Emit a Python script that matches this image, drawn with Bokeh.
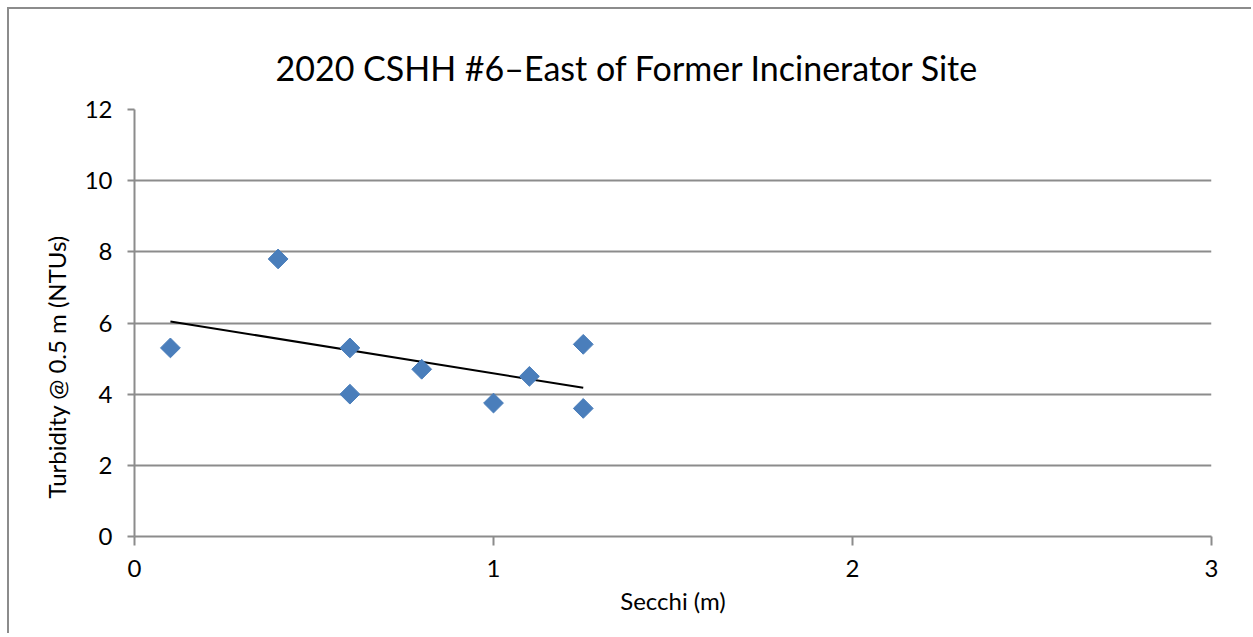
import numpy as np
from bokeh.plotting import figure
from bokeh.models import Range1d, FixedTicker, Title
from bokeh.embed import file_html
from bokeh.resources import INLINE

# Data
secchi_m = [0.1, 0.4, 0.6, 0.6, 0.8, 1.0, 1.1, 1.25, 1.25]
turbidity_ntu = [5.3, 7.8, 5.3, 4.0, 4.7, 3.75, 4.5, 5.4, 3.6]
x_ticks = [0, 1, 2, 3]
y_ticks = [0, 2, 4, 6, 8, 10, 12]

title_text = "2020 CSHH #6\u2013East of Former Incinerator Site"
x_label = "Secchi (m)"
y_label = "Turbidity @  0.5 m (NTUs)"

FONT = "Lato"
GRID = "#8c8c8c"

# linear trendline (least squares)
xs = np.array(secchi_m)
ys = np.array(turbidity_ntu)
slope, intercept = np.polyfit(xs, ys, 1)
tx = [xs.min(), xs.max()]
ty = [slope * v + intercept for v in tx]

p = figure(width=1244, height=626, output_backend="svg", toolbar_location=None,
           x_range=Range1d(0, 3), y_range=Range1d(0, 12),
           min_border_left=125, min_border_right=42, min_border_top=100,
           min_border_bottom=99)
p.styles = {"margin-left": "7px", "margin-top": "7px",
            "border-left": "2px solid #8c8c8c", "border-top": "2px solid #8c8c8c"}
p.outline_line_color = None
p.background_fill_color = "white"
p.border_fill_color = "white"

p.title.text = title_text
p.title.text_font = FONT
p.title.text_font_size = "34px"
p.title.text_font_style = "normal"
p.title.text_color = "#000000"
p.title.align = "left"
p.title.offset = 141
p.title.standoff = 44

p.xaxis.ticker = FixedTicker(ticks=x_ticks)
p.yaxis.ticker = FixedTicker(ticks=y_ticks)
for ax in (p.xaxis[0], p.yaxis[0]):
    ax.axis_line_color = GRID
    ax.axis_line_width = 2
    ax.major_tick_line_color = GRID
    ax.major_tick_line_width = 2
    ax.major_tick_in = 0
    ax.minor_tick_line_color = None
    ax.major_label_text_font = FONT
    ax.major_label_text_font_size = "24px"
    ax.major_label_text_color = "#000000"
    ax.axis_label_text_font = FONT
    ax.axis_label_text_font_style = "normal"
    ax.axis_label_text_color = "#000000"

p.xaxis.major_tick_out = 9
p.yaxis.major_tick_out = 7
p.xaxis.major_label_standoff = 14
p.yaxis.major_label_standoff = 15
p.xaxis.axis_label = x_label
p.xaxis.axis_label_text_font_size = "24px"
p.xaxis.axis_label_standoff = 6

p.xgrid.grid_line_color = None
p.ygrid.grid_line_color = GRID
p.ygrid.grid_line_width = 2

p.line(tx, ty, line_color="black", line_width=2)
p.scatter(secchi_m, turbidity_ntu, marker="square", angle=np.pi / 4, size=14,
          fill_color="#4a7ebb", line_color="#4a7ebb")

ytitle = Title(text=y_label, align="left", offset=38, standoff=22,
               text_font=FONT, text_font_size="24px", text_font_style="normal",
               text_color="#000000")
p.add_layout(ytitle, "left")

open("out.html", "w").write(file_html(p, INLINE))
